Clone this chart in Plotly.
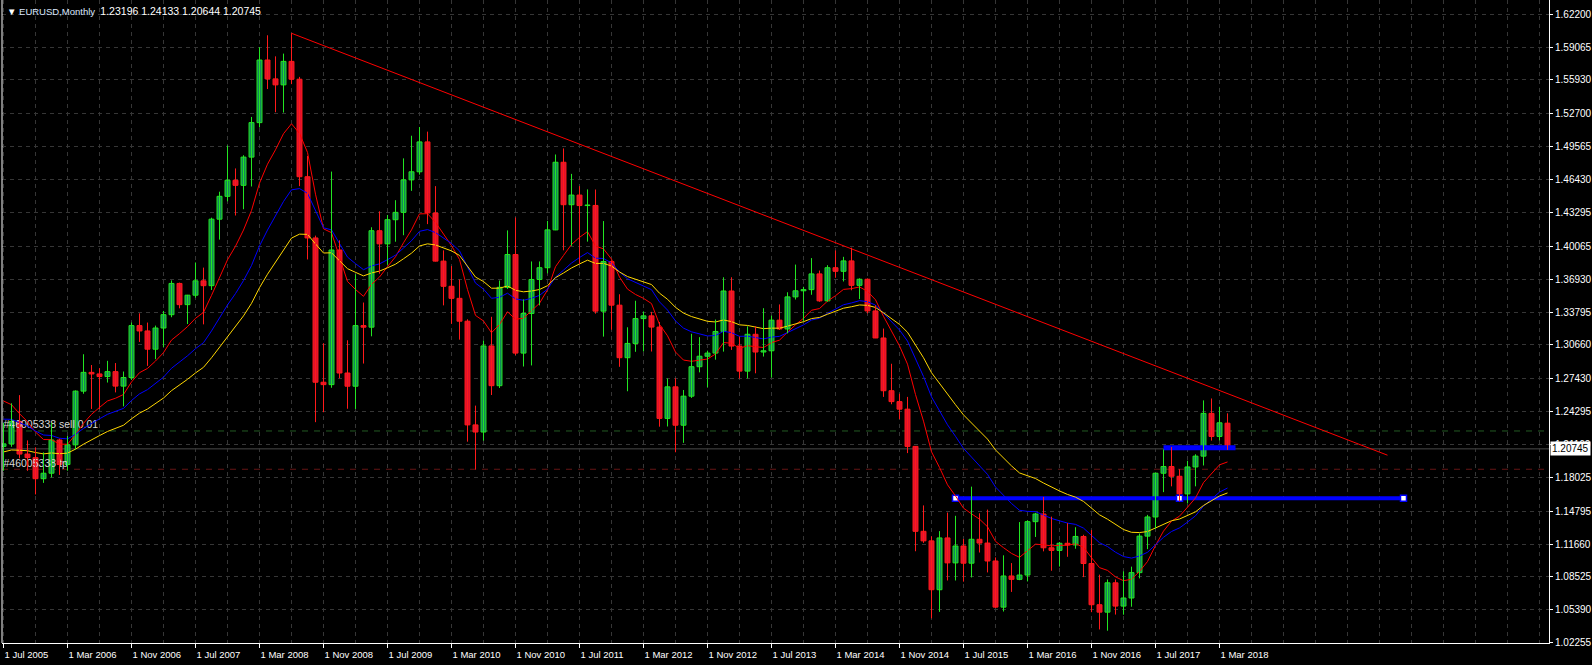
import plotly.graph_objects as go

# ---------------- data (EURUSD monthly, Jul 2005 .. Apr 2018) ----------------
months = [
    "2005-07", "2005-08", "2005-09", "2005-10", "2005-11", "2005-12",
    "2006-01", "2006-02", "2006-03", "2006-04", "2006-05", "2006-06", "2006-07", "2006-08", "2006-09", "2006-10", "2006-11", "2006-12",
    "2007-01", "2007-02", "2007-03", "2007-04", "2007-05", "2007-06", "2007-07", "2007-08", "2007-09", "2007-10", "2007-11", "2007-12",
    "2008-01", "2008-02", "2008-03", "2008-04", "2008-05", "2008-06", "2008-07", "2008-08", "2008-09", "2008-10", "2008-11", "2008-12",
    "2009-01", "2009-02", "2009-03", "2009-04", "2009-05", "2009-06", "2009-07", "2009-08", "2009-09", "2009-10", "2009-11", "2009-12",
    "2010-01", "2010-02", "2010-03", "2010-04", "2010-05", "2010-06", "2010-07", "2010-08", "2010-09", "2010-10", "2010-11", "2010-12",
    "2011-01", "2011-02", "2011-03", "2011-04", "2011-05", "2011-06", "2011-07", "2011-08", "2011-09", "2011-10", "2011-11", "2011-12",
    "2012-01", "2012-02", "2012-03", "2012-04", "2012-05", "2012-06", "2012-07", "2012-08", "2012-09", "2012-10", "2012-11", "2012-12",
    "2013-01", "2013-02", "2013-03", "2013-04", "2013-05", "2013-06", "2013-07", "2013-08", "2013-09", "2013-10", "2013-11", "2013-12",
    "2014-01", "2014-02", "2014-03", "2014-04", "2014-05", "2014-06", "2014-07", "2014-08", "2014-09", "2014-10", "2014-11", "2014-12",
    "2015-01", "2015-02", "2015-03", "2015-04", "2015-05", "2015-06", "2015-07", "2015-08", "2015-09", "2015-10", "2015-11", "2015-12",
    "2016-01", "2016-02", "2016-03", "2016-04", "2016-05", "2016-06", "2016-07", "2016-08", "2016-09", "2016-10", "2016-11", "2016-12",
    "2017-01", "2017-02", "2017-03", "2017-04", "2017-05", "2017-06", "2017-07", "2017-08", "2017-09", "2017-10", "2017-11", "2017-12",
    "2018-01", "2018-02", "2018-03", "2018-04",
]

open_ = [
    1.2098, 1.2122, 1.2336, 1.2025, 1.1991, 1.1790,
    1.1842, 1.2159, 1.1925, 1.2113, 1.2625, 1.2804, 1.2789, 1.2764, 1.2811, 1.2673, 1.2755, 1.3250,
    1.3199, 1.3025, 1.3227, 1.3354, 1.3652, 1.3450, 1.3540, 1.3677, 1.3631, 1.4265, 1.4483, 1.4636,
    1.4588, 1.4857, 1.5186, 1.5783, 1.5603, 1.5546, 1.5770, 1.5600, 1.4670, 1.4086, 1.2710, 1.2687,
    1.3971, 1.2798, 1.2672, 1.3250, 1.3235, 1.4155, 1.4030, 1.4260, 1.4330, 1.4640, 1.4717, 1.5002,
    1.4324, 1.3865, 1.3625, 1.3510, 1.3292, 1.2303, 1.2235, 1.3056, 1.2677, 1.3615, 1.3928, 1.2988,
    1.3366, 1.3690, 1.3802, 1.4163, 1.4808, 1.4403, 1.4495, 1.4395, 1.4396, 1.3388, 1.3861, 1.3445,
    1.2944, 1.3080, 1.3317, 1.3343, 1.3236, 1.2365, 1.2666, 1.2300, 1.2577, 1.2858, 1.2958, 1.2988,
    1.3194, 1.3580, 1.3055, 1.2816, 1.3167, 1.2998, 1.3010, 1.3302, 1.3218, 1.3524, 1.3582, 1.3593,
    1.3743, 1.3486, 1.3802, 1.3768, 1.3867, 1.3634, 1.3692, 1.3390, 1.3132, 1.2629, 1.2525, 1.2453,
    1.2098, 1.1288, 1.1197, 1.0731, 1.1225, 1.0987, 1.1148, 1.0984, 1.1212, 1.1176, 1.1005, 1.0565,
    1.0862, 1.0830, 1.0871, 1.1380, 1.1453, 1.1131, 1.1106, 1.1174, 1.1158, 1.1239, 1.0981, 1.0588,
    1.0517, 1.0797, 1.0575, 1.0652, 1.0894, 1.1242, 1.1425, 1.1842, 1.1906, 1.1813, 1.1645, 1.1902,
    1.2005, 1.2413, 1.2193, 1.23196,
]

high = [
    1.2323, 1.2509, 1.2587, 1.2155, 1.2089, 1.2041,
    1.2323, 1.2171, 1.2197, 1.2632, 1.2977, 1.2874, 1.2844, 1.2914, 1.2893, 1.2812, 1.3279, 1.3367,
    1.3279, 1.3250, 1.3390, 1.3681, 1.3660, 1.3543, 1.3852, 1.3803, 1.4279, 1.4527, 1.4967, 1.4749,
    1.4875, 1.5240, 1.5905, 1.6019, 1.5818, 1.5844, 1.6038, 1.5622, 1.4868, 1.4108, 1.3082, 1.4719,
    1.4063, 1.3110, 1.3740, 1.3470, 1.4188, 1.4340, 1.4305, 1.4446, 1.4845, 1.5061, 1.5144, 1.5100,
    1.4580, 1.3968, 1.3818, 1.3690, 1.3310, 1.2487, 1.3108, 1.3334, 1.3680, 1.4158, 1.4281, 1.3500,
    1.3862, 1.3862, 1.4249, 1.4882, 1.4940, 1.4697, 1.4580, 1.4549, 1.4548, 1.4247, 1.3872, 1.3549,
    1.3234, 1.3487, 1.3385, 1.3381, 1.3284, 1.2746, 1.2748, 1.2636, 1.3172, 1.3140, 1.3011, 1.3308,
    1.3711, 1.3711, 1.3144, 1.3243, 1.3243, 1.3416, 1.3345, 1.3452, 1.3568, 1.3832, 1.3620, 1.3894,
    1.3775, 1.3826, 1.3967, 1.3906, 1.3993, 1.3701, 1.3700, 1.3444, 1.3222, 1.2886, 1.2600, 1.2570,
    1.2099, 1.1535, 1.1240, 1.1290, 1.1467, 1.1436, 1.1215, 1.1714, 1.1460, 1.1495, 1.1039, 1.1059,
    1.0985, 1.1376, 1.1392, 1.1464, 1.1616, 1.1428, 1.1186, 1.1366, 1.1327, 1.1255, 1.1300, 1.0875,
    1.0829, 1.0829, 1.0906, 1.0951, 1.1267, 1.1445, 1.1846, 1.2069, 1.2092, 1.1880, 1.1961, 1.2023,
    1.2537, 1.2555, 1.2476, 1.24133,
]

low = [
    1.1866, 1.2094, 1.1984, 1.1865, 1.1640, 1.1750,
    1.1802, 1.1826, 1.1866, 1.2067, 1.2600, 1.2455, 1.2456, 1.2707, 1.2613, 1.2480, 1.2732, 1.3094,
    1.2866, 1.2930, 1.3045, 1.3330, 1.3415, 1.3265, 1.3516, 1.3262, 1.3590, 1.4070, 1.4435, 1.4300,
    1.4360, 1.4577, 1.5140, 1.5506, 1.5285, 1.5282, 1.5553, 1.4580, 1.3881, 1.2329, 1.2424, 1.2657,
    1.2748, 1.2457, 1.2455, 1.2888, 1.3148, 1.3745, 1.3830, 1.4050, 1.4112, 1.4535, 1.4690, 1.4218,
    1.3862, 1.3443, 1.3267, 1.3116, 1.2143, 1.1877, 1.2152, 1.2588, 1.2655, 1.3600, 1.2968, 1.2860,
    1.2870, 1.3443, 1.3748, 1.4160, 1.3968, 1.4011, 1.3837, 1.4051, 1.3364, 1.3145, 1.3211, 1.2857,
    1.2624, 1.3000, 1.3003, 1.3003, 1.2286, 1.2288, 1.2042, 1.2132, 1.2560, 1.2804, 1.2662, 1.2925,
    1.3002, 1.3018, 1.2745, 1.2746, 1.2795, 1.2955, 1.2755, 1.3208, 1.3176, 1.3499, 1.3295, 1.3544,
    1.3477, 1.3478, 1.3706, 1.3671, 1.3587, 1.3503, 1.3366, 1.3131, 1.2570, 1.2500, 1.2358, 1.2034,
    1.1098, 1.1178, 1.0458, 1.0520, 1.0819, 1.0819, 1.0808, 1.0848, 1.1086, 1.0896, 1.0557, 1.0523,
    1.0710, 1.0822, 1.0810, 1.1234, 1.1097, 1.0912, 1.0952, 1.1045, 1.1122, 1.0851, 1.0517, 1.0352,
    1.0340, 1.0494, 1.0493, 1.0569, 1.0839, 1.1118, 1.1312, 1.1662, 1.1717, 1.1574, 1.1554, 1.1717,
    1.1916, 1.2153, 1.2155, 1.20644,
]

close = [
    1.2122, 1.2336, 1.2025, 1.1991, 1.1790, 1.1842,
    1.2159, 1.1925, 1.2113, 1.2625, 1.2804, 1.2789, 1.2764, 1.2811, 1.2673, 1.2755, 1.3250, 1.3199,
    1.3025, 1.3227, 1.3354, 1.3652, 1.3450, 1.3540, 1.3677, 1.3631, 1.4265, 1.4483, 1.4636, 1.4588,
    1.4857, 1.5186, 1.5783, 1.5603, 1.5546, 1.5770, 1.5600, 1.4670, 1.4086, 1.2710, 1.2687, 1.3971,
    1.2798, 1.2672, 1.3250, 1.3235, 1.4155, 1.4030, 1.4260, 1.4330, 1.4640, 1.4717, 1.5002, 1.4324,
    1.3865, 1.3625, 1.3510, 1.3292, 1.2303, 1.2235, 1.3056, 1.2677, 1.3615, 1.3928, 1.2988, 1.3366,
    1.3690, 1.3802, 1.4163, 1.4808, 1.4403, 1.4495, 1.4395, 1.4396, 1.3388, 1.3861, 1.3445, 1.2944,
    1.3080, 1.3317, 1.3343, 1.3236, 1.2365, 1.2666, 1.2300, 1.2577, 1.2858, 1.2958, 1.2988, 1.3194,
    1.3580, 1.3055, 1.2816, 1.3167, 1.2998, 1.3010, 1.3302, 1.3218, 1.3524, 1.3582, 1.3593, 1.3743,
    1.3486, 1.3802, 1.3768, 1.3867, 1.3634, 1.3692, 1.3390, 1.3132, 1.2629, 1.2525, 1.2453, 1.2098,
    1.1288, 1.1197, 1.0731, 1.1225, 1.0987, 1.1148, 1.0984, 1.1212, 1.1176, 1.1005, 1.0565, 1.0862,
    1.0830, 1.0871, 1.1380, 1.1453, 1.1131, 1.1106, 1.1174, 1.1158, 1.1239, 1.0981, 1.0588, 1.0517,
    1.0797, 1.0575, 1.0652, 1.0894, 1.1242, 1.1425, 1.1842, 1.1906, 1.1813, 1.1645, 1.1902, 1.2005,
    1.2413, 1.2193, 1.2323, 1.20745,
]

# x-axis tick labels (every 8th bar) and the months they belong to
x_tick_months = ["2005-07", "2006-03", "2006-11", "2007-07", "2008-03", "2008-11", "2009-07",
                 "2010-03", "2010-11", "2011-07", "2012-03", "2012-11", "2013-07", "2014-03",
                 "2014-11", "2015-07", "2016-03", "2016-11", "2017-07", "2018-03"]
x_tick_labels = ["1 Jul 2005", "1 Mar 2006", "1 Nov 2006", "1 Jul 2007", "1 Mar 2008", "1 Nov 2008",
                 "1 Jul 2009", "1 Mar 2010", "1 Nov 2010", "1 Jul 2011", "1 Mar 2012", "1 Nov 2012",
                 "1 Jul 2013", "1 Mar 2014", "1 Nov 2014", "1 Jul 2015", "1 Mar 2016", "1 Nov 2016",
                 "1 Jul 2017", "1 Mar 2018"]

# price-scale labels
y_tick_values = [1.02255, 1.05390, 1.08525, 1.11660, 1.14795, 1.18025, 1.21160, 1.24295,
                 1.27430, 1.30660, 1.33795, 1.36930, 1.40065, 1.43295, 1.46430, 1.49565,
                 1.52700, 1.55930, 1.59065, 1.62200]

# moving averages: periods and their values on the first visible bar
ema_periods = [10, 20, 30]
ema_first_values = [1.2531, 1.2358, 1.2045]
ema_colors = ["#ff0000", "#0000ff", "#ffd700"]

# drawn objects (anchors in bars from first visible bar, prices)
trend_start_bar, trend_end_bar, trend_end_price = 36, 173, 1.2014
support_start_bar, support_end_bar, support_price = 119, 175, 1.1604
resist_start_bar, resist_end_bar, resist_price = 145, 154, 1.2085

# open order
order_label = "#46005338 sell 0.01"
tp_label = "#46005338 tp"
sell_price = 1.2245
tp_price = 1.1880

symbol_text = "EURUSD,Monthly"

# ---------------- derived ----------------
n = len(months)
idx = list(range(n))
current_price = close[-1]


def ema(values, period, first):
    a = 2.0 / (period + 1)
    out = [first]
    for v in values[1:]:
        out.append(out[-1] + a * (v - out[-1]))
    return out


bull = [c >= o for o, c in zip(open_, close)]
MIN_BODY = 0.0005

# colours
BG = "#000000"
GRID = "#363636"
BULL_LINE = "#22e622"
BULL_FILL = "#14875a"
BEAR_LINE = "#ff1a1a"
BEAR_FILL = "#e0122e"
FONT = "Liberation Sans, Arial, sans-serif"
FS = 9.5
FS_NUM = 10.5

fig = go.Figure()

# order labels (drawn under the price bars)
fig.add_trace(go.Scatter(
    x=[idx[0], idx[0]], y=[sell_price, tp_price], mode="text",
    text=[order_label, tp_label], textposition="top right",
    textfont=dict(color="#d8d8d8", size=10.5, family=FONT), hoverinfo="skip"))

# horizontal drawn levels
for s, e, p, w in [(support_start_bar, support_end_bar, support_price, 4),
                   (resist_start_bar, resist_end_bar, resist_price, 5)]:
    fig.add_trace(go.Scatter(x=[s, e], y=[p, p], mode="lines",
                             line=dict(color="#0000ff", width=w), hoverinfo="skip"))
# selection handles of the support level
fig.add_trace(go.Scatter(
    x=[support_start_bar, (support_start_bar + support_end_bar) / 2, support_end_bar],
    y=[support_price] * 3, mode="markers",
    marker=dict(symbol="square", size=6, color="#ffffff", line=dict(color="#0000ff", width=1.5)),
    hoverinfo="skip"))

# moving averages
for per, first, col in zip(ema_periods, ema_first_values, ema_colors):
    fig.add_trace(go.Scatter(x=idx, y=ema(close, per, first), mode="lines",
                             line=dict(color=col, width=1), hoverinfo="skip"))

# trend line
fig.add_trace(go.Scatter(x=[trend_start_bar, trend_end_bar],
                         y=[high[trend_start_bar], trend_end_price], mode="lines",
                         line=dict(color="#ff0000", width=1), hoverinfo="skip"))

# wicks
for flag, col in [(True, BULL_LINE), (False, BEAR_LINE)]:
    xs, ys = [], []
    for i in idx:
        if bull[i] == flag:
            xs += [i, i, None]
            ys += [low[i], high[i], None]
    fig.add_trace(go.Scatter(x=xs, y=ys, mode="lines", line=dict(color=col, width=1),
                             hoverinfo="skip", connectgaps=False))

# bodies
for flag, fill, col in [(True, BULL_FILL, BULL_LINE), (False, BEAR_FILL, BEAR_LINE)]:
    bx = [i for i in idx if bull[i] == flag]
    base = [min(open_[i], close[i]) for i in bx]
    hgt = [max(abs(close[i] - open_[i]), MIN_BODY) for i in bx]
    fig.add_trace(go.Bar(x=bx, y=hgt, base=base, width=0.62,
                         marker=dict(color=fill, line=dict(color=col, width=1)),
                         hoverinfo="skip"))

# ---------------- layout ----------------
W, H = 1592, 665
ML, MR, MT, MB = 2, 43, 0, 22
PX_PER_BAR = 8.0
x0 = -1.5 / PX_PER_BAR
x1 = x0 + (W - ML - MR) / PX_PER_BAR
px_per_price = 1048.5
y1 = 1.62200 + 14.2 / px_per_price
y0 = y1 - (H - MT - MB) / px_per_price

tickvals_x = [months.index(m) for m in x_tick_months]
minor_x = list(range(0, int(x1) + 1, 4))

fig.update_layout(
    width=W, height=H, margin=dict(l=ML, r=MR, t=MT, b=MB, autoexpand=False),
    paper_bgcolor=BG, plot_bgcolor=BG, showlegend=False, barmode="overlay",
    font=dict(family=FONT, color="#ffffff", size=FS),
    xaxis=dict(range=[x0, x1], tickmode="array", tickvals=tickvals_x, ticktext=x_tick_labels,
               ticks="outside", ticklen=4, tickcolor="#ffffff", tickwidth=1,
               ticklabelposition="outside right", ticklabelstandoff=3, automargin=False,
               showline=True, linecolor="#ffffff", linewidth=1,
               showgrid=True, gridcolor=GRID, griddash="4px,4px", gridwidth=1,
               minor=dict(tickmode="array", tickvals=minor_x, showgrid=True, gridcolor=GRID,
                          griddash="4px,4px", gridwidth=1, ticks=""),
               zeroline=False, fixedrange=True,
               tickfont=dict(family=FONT, color="#ffffff", size=FS)),
    yaxis=dict(range=[y0, y1], side="right", tickmode="array", tickvals=y_tick_values,
               ticktext=[f"{v:.5f}" for v in y_tick_values], automargin=False,
               ticks="outside", ticklen=3, tickcolor="#ffffff", tickwidth=1,
               showline=True, linecolor="#ffffff", linewidth=1,
               showgrid=True, gridcolor=GRID, griddash="4px,4px", gridwidth=1,
               zeroline=False, fixedrange=True,
               tickfont=dict(family=FONT, color="#ffffff", size=10)),
    shapes=[
        dict(type="line", xref="paper", yref="paper", x0=0, x1=0, y0=0, y1=1,
             line=dict(color="#ffffff", width=1)),
        dict(type="line", xref="paper", yref="y", x0=0, x1=1, y0=current_price, y1=current_price,
             line=dict(color="#4a4a4a", width=1), layer="between"),
        dict(type="line", xref="paper", yref="y", x0=0, x1=1, y0=sell_price, y1=sell_price,
             line=dict(color="#225a22", width=1, dash="6px,6px"), layer="between"),
        dict(type="line", xref="paper", yref="y", x0=0, x1=1, y0=tp_price, y1=tp_price,
             line=dict(color="#661414", width=1, dash="6px,6px"), layer="between"),
    ],
    annotations=[
        dict(xref="paper", yref="paper", x=0, y=1, xanchor="left", yanchor="top",
             xshift=3, yshift=-3, showarrow=False, align="left",
             text=("▼ "
                   f"<span style='color:#dbe8ff'>{symbol_text}</span>&nbsp;&nbsp;"
                   f"<span style='font-size:{FS_NUM}px'>"
                   f"{open_[-1]:.5f} {high[-1]:.5f} {low[-1]:.5f} {close[-1]:.5f}</span>"),
             font=dict(family=FONT, size=FS, color="#ffffff")),
        dict(xref="paper", yref="y", x=1, y=current_price, xanchor="left", yanchor="middle",
             xshift=1, showarrow=False, text=f"{current_price:.5f}",
             bgcolor="#ffffff", borderpad=1, font=dict(family=FONT, size=10, color="#000000")),
    ],
)

fig.write_html("out.html", config={"displayModeBar": False, "staticPlot": True},
               post_script="document.body.style.margin='0px';document.body.style.overflow='hidden';")
